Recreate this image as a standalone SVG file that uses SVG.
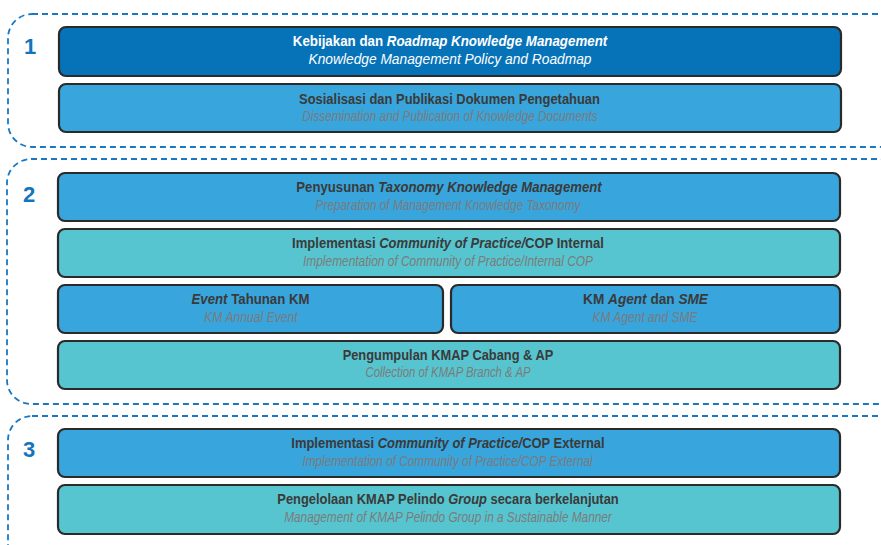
<svg xmlns="http://www.w3.org/2000/svg" width="881" height="545" viewBox="0 0 881 545">
<style>
.grp{fill:none;stroke:#1a78c2;stroke-width:1.8;stroke-dasharray:6 4}
.num{font-family:"Liberation Sans",Arial,sans-serif;font-weight:bold;font-size:22px;fill:#1474bb}
.box{stroke:#2a2a2a;stroke-width:2.2}
.dark{fill:#0673b9}
.mid{fill:#38a5dd}
.teal{fill:#57c5cf}
.t{font-family:"Liberation Sans",Arial,sans-serif;font-weight:bold;font-size:15.5px;fill:#3a3a3a;text-anchor:middle}
.s{font-family:"Liberation Sans",Arial,sans-serif;font-style:italic;font-size:14.5px;fill:#7b7b7b;text-anchor:middle}
.w{fill:#ffffff}
.i{font-style:italic}
</style>
<g id="phase1">
<rect class="grp" x="8" y="14" width="895" height="133" rx="24"/>
<text class="num" x="24" y="54">1</text>
</g>
<g id="phase2">
<rect class="grp" x="7" y="159" width="896" height="245" rx="24"/>
<text class="num" x="23" y="202">2</text>
</g>
<g id="phase3">
<rect class="grp" x="8" y="416" width="895" height="170" rx="24"/>
<text class="num" x="23" y="457">3</text>
</g>
<g id="n1">
<rect class="box dark" x="59" y="27" width="782" height="49" rx="7"/>
<text class="t w" transform="translate(450 46) scale(0.86 1)">Kebijakan dan <tspan class="i">Roadmap Knowledge Management</tspan></text>
<text class="s w" transform="translate(450 64) scale(0.95 1)">Knowledge Management Policy and Roadmap</text>
</g>
<g id="n2">
<rect class="box mid" x="59" y="84" width="782" height="48" rx="7"/>
<text class="t" transform="translate(449.5 104) scale(0.834 1)">Sosialisasi dan Publikasi Dokumen Pengetahuan</text>
<text class="s" transform="translate(450 121) scale(0.813 1)">Dissemination and Publication of Knowledge Documents</text>
</g>
<g id="n3">
<rect class="box mid" x="58" y="173" width="782" height="48" rx="7"/>
<text class="t" transform="translate(449 192) scale(0.85 1)">Penyusunan <tspan class="i">Taxonomy Knowledge Management</tspan></text>
<text class="s" transform="translate(448 210) scale(0.813 1)">Preparation of Management Knowledge Taxonomy</text>
</g>
<g id="n4">
<rect class="box teal" x="58" y="229" width="782" height="48" rx="7"/>
<text class="t" transform="translate(448 248) scale(0.843 1)">Implementasi <tspan class="i">Community of Practice/</tspan>COP Internal</text>
<text class="s" transform="translate(448 266) scale(0.822 1)">Implementation of Community of Practice/Internal COP</text>
</g>
<g id="n5">
<rect class="box mid" x="58" y="285" width="385" height="48" rx="7"/>
<text class="t" transform="translate(250.5 304) scale(0.853 1)"><tspan class="i">Event</tspan> Tahunan KM</text>
<text class="s" transform="translate(251 322) scale(0.839 1)">KM Annual Event</text>
</g>
<g id="n6">
<rect class="box mid" x="451" y="285" width="389" height="48" rx="7"/>
<text class="t" transform="translate(645.5 304) scale(0.88 1)">KM <tspan class="i">Agent</tspan> dan <tspan class="i">SME</tspan></text>
<text class="s" transform="translate(645 322) scale(0.83 1)">KM Agent and SME</text>
</g>
<g id="n7">
<rect class="box teal" x="58" y="341" width="782" height="48" rx="7"/>
<text class="t" transform="translate(448 360) scale(0.83 1)">Pengumpulan KMAP Cabang &amp; AP</text>
<text class="s" transform="translate(448 377) scale(0.783 1)">Collection of KMAP Branch &amp; AP</text>
</g>
<g id="n8">
<rect class="box mid" x="58" y="429" width="782" height="48" rx="7"/>
<text class="t" transform="translate(448 448) scale(0.836 1)">Implementasi <tspan class="i">Community of Practice/</tspan>COP External</text>
<text class="s" transform="translate(447.5 466) scale(0.813 1)">Implementation of Community of Practice/COP External</text>
</g>
<g id="n9">
<rect class="box teal" x="58" y="485" width="782" height="49" rx="7"/>
<text class="t" transform="translate(448 504) scale(0.832 1)">Pengelolaan KMAP Pelindo <tspan class="i">Group</tspan> secara berkelanjutan</text>
<text class="s" transform="translate(448 522) scale(0.814 1)">Management of KMAP Pelindo Group in a Sustainable Manner</text>
</g>
<g id="connectors"></g>
</svg>
